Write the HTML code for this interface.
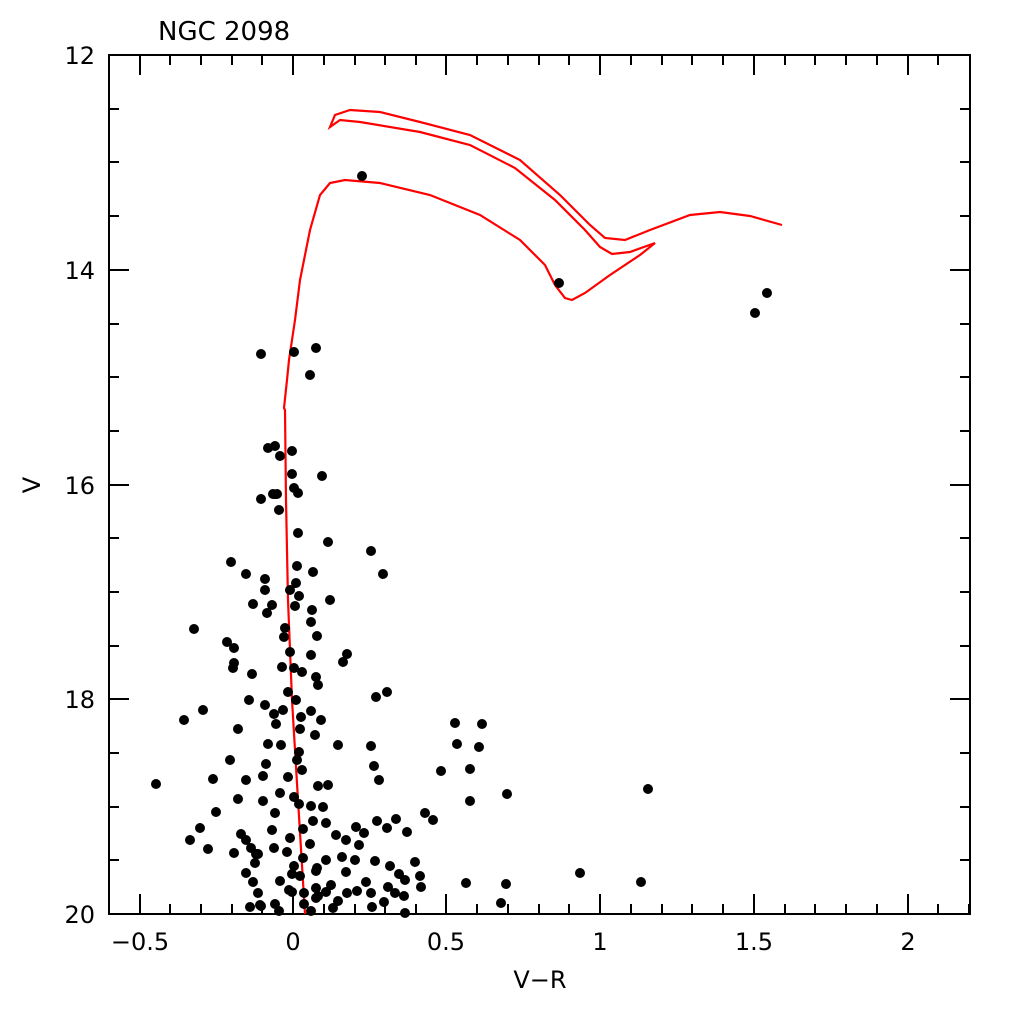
<!DOCTYPE html>
<html><head><style>body{margin:0;background:#fff}svg{display:block}text{font-family:"DejaVu Sans","Liberation Sans",sans-serif;fill:#000}</style></head><body>
<svg width="1024" height="1024" viewBox="0 0 1024 1024">
<rect x="109" y="55" width="861" height="859" fill="none" stroke="#000" stroke-width="2"/>
<g stroke="#000" stroke-width="2">
<path d="M140 914v-20M293 914v-20M446 914v-20M600 914v-20M754 914v-20M908 914v-20M140 55v20M293 55v20M446 55v20M600 55v20M754 55v20M908 55v20"/>
<path d="M170 914v-10M201 914v-10M232 914v-10M262 914v-10M324 914v-10M355 914v-10M385 914v-10M416 914v-10M477 914v-10M508 914v-10M539 914v-10M569 914v-10M631 914v-10M662 914v-10M692 914v-10M723 914v-10M785 914v-10M815 914v-10M846 914v-10M877 914v-10M938 914v-10M969 914v-10"/>
<path d="M170 55v10M201 55v10M232 55v10M262 55v10M324 55v10M355 55v10M385 55v10M416 55v10M477 55v10M508 55v10M539 55v10M569 55v10M631 55v10M662 55v10M692 55v10M723 55v10M785 55v10M815 55v10M846 55v10M877 55v10M938 55v10"/>
<path d="M109 270h20M109 485h20M109 699h20M970 270h-20M970 485h-20M970 699h-20"/>
<path d="M109 109h10M109 162h10M109 216h10M109 324h10M109 377h10M109 431h10M109 538h10M109 592h10M109 646h10M109 753h10M109 807h10M109 860h10"/>
<path d="M970 109h-10M970 162h-10M970 216h-10M970 324h-10M970 377h-10M970 431h-10M970 538h-10M970 592h-10M970 646h-10M970 753h-10M970 807h-10M970 860h-10"/>
</g>
<g font-size="24" text-anchor="middle">
<text x="140" y="950">−0.5</text><text x="293" y="950">0</text><text x="446" y="950">0.5</text><text x="600" y="950">1</text><text x="754" y="950">1.5</text><text x="908" y="950">2</text>
<text x="540" y="988">V−R</text>
</g>
<g font-size="24" text-anchor="end">
<text x="95" y="64">12</text><text x="95" y="279">14</text><text x="95" y="494">16</text><text x="95" y="708">18</text><text x="95" y="923">20</text>
</g>
<text x="40" y="485" font-size="24" text-anchor="middle" transform="rotate(-90 40 485)">V</text>
<text x="158" y="40" font-size="26">NGC 2098</text>
<path fill="none" stroke="#f00" stroke-width="2.2" d="M305 914 L298 800 L292 700 L288 600 L286 500 L285 410 L284 408 L287 380 L289 360 L295 320 L300 280 L310 230 L320 195 L330 183 L345 180 L380 183 L430 195 L480 215 L520 240 L545 265 L555 285 L565 298 L572 300 L585 293 L610 275 L640 255 L655 243 L630 252 L612 254 L600 247 L585 230 L555 200 L515 168 L470 145 L420 132 L360 122 L340 120 L330 127 L335 115 L350 110 L380 112 L420 122 L470 135 L520 160 L560 195 L590 225 L605 238 L625 240 L650 230 L690 215 L720 212 L750 216 L782 225"/>
<path fill="none" stroke="#000" stroke-width="10" stroke-linecap="round" d="M362 176h0M559 283h0M767 293h0M755 313h0M261 354h0M294 352h0M316 348h0M310 375h0M268 448h0M275 446h0M292 451h0M280 456h0M322 476h0M292 474h0M294 488h0M298 493h0M273 494h0M261 499h0M277 494h0M279 510h0M298 533h0M328 542h0M371 551h0M383 574h0M231 562h0M246 574h0M265 579h0M297 566h0M313 572h0M296 583h0M265 590h0M253 604h0M272 605h0M312 610h0M330 600h0M290 590h0M299 596h0M295 606h0M285 628h0M311 622h0M267 613h0M194 629h0M227 642h0M234 648h0M234 663h0M233 668h0M284 637h0M317 636h0M347 654h0M343 662h0M290 652h0M311 655h0M282 667h0M294 668h0M302 672h0M316 677h0M318 685h0M252 674h0M288 692h0M296 700h0M283 710h0M265 705h0M249 700h0M203 710h0M184 720h0M376 697h0M387 692h0M321 720h0M301 717h0M311 711h0M274 714h0M276 724h0M238 729h0M300 729h0M315 735h0M338 745h0M268 744h0M299 752h0M281 745h0M230 760h0M213 779h0M246 780h0M266 764h0M297 760h0M371 746h0M374 766h0M379 780h0M441 771h0M470 769h0M156 784h0M263 776h0M288 777h0M302 770h0M318 786h0M328 785h0M280 793h0M263 801h0M294 797h0M275 813h0M299 804h0M311 806h0M323 807h0M238 799h0M482 724h0M455 723h0M457 744h0M479 747h0M470 801h0M507 794h0M648 789h0M425 813h0M433 820h0M396 819h0M387 828h0M407 832h0M377 821h0M356 827h0M336 835h0M313 821h0M326 823h0M272 830h0M290 838h0M310 844h0M346 840h0M364 833h0M359 845h0M190 840h0M200 828h0M216 812h0M208 849h0M241 834h0M251 848h0M258 854h0M274 848h0M287 852h0M303 858h0M326 860h0M342 857h0M355 860h0M317 868h0M294 866h0M292 874h0M316 871h0M346 872h0M399 874h0M415 862h0M420 876h0M246 873h0M253 882h0M280 881h0M300 876h0M375 861h0M390 866h0M405 880h0M421 887h0M388 887h0M366 882h0M331 885h0M316 888h0M304 893h0M258 893h0M289 890h0M250 907h0M260 905h0M275 904h0M279 911h0M304 904h0M318 896h0M326 892h0M338 901h0M347 893h0M357 891h0M372 907h0M384 902h0M395 893h0M404 896h0M333 908h0M371 893h0M466 883h0M506 884h0M501 903h0M580 873h0M641 882h0M316 898h0M405 913h0M311 911h0M292 892h0M246 840h0M255 863h0M303 829h0M261 906h0M234 853h0M256 854h0"/>
</svg>
</body></html>
